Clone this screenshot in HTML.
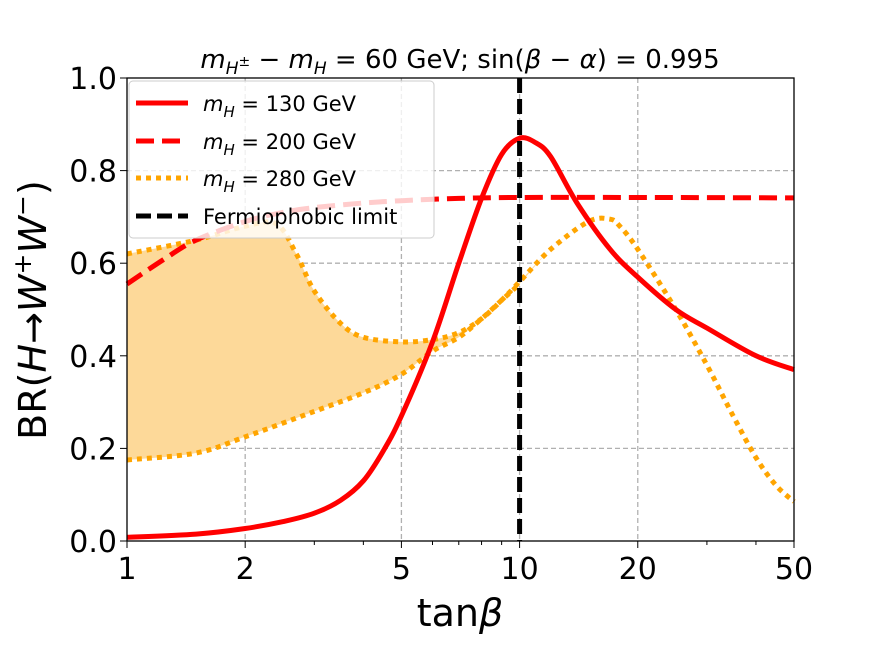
<!DOCTYPE html>
<html><head><meta charset="utf-8"><style>
body{margin:0;background:#fff;font-family:"DejaVu Sans","Liberation Sans",sans-serif}
svg text{font-family:"DejaVu Sans","Liberation Sans",sans-serif}
</style></head><body>
<svg id="c" width="882" height="645" xmlns="http://www.w3.org/2000/svg"></svg>
<script>
const xs130=[1,1.5,2,2.5,3,3.5,4,4.5,5,6,7,8,9,10,11,12,14,17,20,25,30,40,50];
const ys130=[0.008,0.015,0.027,0.042,0.06,0.088,0.13,0.195,0.27,0.43,0.6,0.74,0.835,0.87,0.86,0.83,0.73,0.63,0.57,0.5,0.46,0.40,0.37];
const xs200=[1,1.25,1.5,2,2.5,3,4,5,7,10,20,50];
const ys200=[0.555,0.61,0.65,0.69,0.71,0.72,0.73,0.735,0.74,0.742,0.742,0.741];
const xsUp=[1,1.5,2,2.4,2.7,3,3.5,4,5,6,7,8,9,10,12,15,17,18,20,25,30,35,40,45,50];
const ysUp=[0.62,0.65,0.68,0.685,0.62,0.54,0.47,0.44,0.43,0.435,0.45,0.48,0.52,0.56,0.63,0.69,0.695,0.68,0.63,0.5,0.38,0.27,0.18,0.12,0.085];
const xsLo=[1,1.5,2,3,4,5,6,7,8,9,10];
const ysLo=[0.175,0.19,0.225,0.28,0.32,0.36,0.41,0.44,0.48,0.52,0.555];
const xTicks=[1,2,5,10,20,50];
const yTicks=[0,0.2,0.4,0.6,0.8,1.0];
const X0=127,X1=794,Y0=541,Y1=78;
const sx=v=>X0+Math.log10(v)/Math.log10(50)*(X1-X0);
const sy=v=>Y0-v*(Y0-Y1);
const svg=document.getElementById('c');
const NS='http://www.w3.org/2000/svg';
function mk(t,a,txt){const e=document.createElementNS(NS,t);for(const k in a)e.setAttribute(k,a[k]);if(txt!==undefined)e.textContent=txt;svg.appendChild(e);return e;}
function smooth(P){let d='M'+P[0][0].toFixed(1)+','+P[0][1].toFixed(1);
for(let i=0;i<P.length-1;i++){const p0=P[Math.max(i-1,0)],p1=P[i],p2=P[i+1],p3=P[Math.min(i+2,P.length-1)];
const c1=[p1[0]+(p2[0]-p0[0])/6,p1[1]+(p2[1]-p0[1])/6],c2=[p2[0]-(p3[0]-p1[0])/6,p2[1]-(p3[1]-p1[1])/6];
d+=' C'+c1.map(v=>v.toFixed(1))+' '+c2.map(v=>v.toFixed(1))+' '+p2.map(v=>v.toFixed(1));}return d;}
const P=(xa,ya)=>xa.map((x,i)=>[sx(x),sy(ya[i])]);
xTicks.slice(1,-1).forEach(t=>{const e=mk('line',{x1:sx(t),x2:sx(t),y1:Y1,y2:Y0,stroke:'#b0b0b0','stroke-width':1.3,'stroke-dasharray':'5,3'});

});
yTicks.slice(1,-1).forEach(t=>{const e=mk('line',{x1:X0,x2:X1,y1:sy(t),y2:sy(t),stroke:'#b0b0b0','stroke-width':1.3,'stroke-dasharray':'5,3'});

});
const upP=P(xsUp,ysUp);
const loX=xsLo.concat(xsUp.filter(x=>x>10)), loY=ysLo.concat(ysUp.filter((y,i)=>xsUp[i]>10));
const loP=P(loX,loY);
const upD=smooth(upP), loRev=smooth(loP.slice().reverse());
let f=mk('path',{d:upD+' L'+loRev.slice(1)+' Z',fill:'#fdd999',stroke:'none'});


let l=mk('path',{d:smooth(P(xsLo,ysLo)),fill:'none',stroke:'#ffa500','stroke-width':5,'stroke-dasharray':'5,5'});


l=mk('path',{d:upD,fill:'none',stroke:'#ffa500','stroke-width':5,'stroke-dasharray':'5,5'});


l=mk('path',{d:smooth(P(xs200,ys200)),fill:'none',stroke:'#ff0000','stroke-width':5,'stroke-dasharray':'18,8'});


l=mk('path',{d:smooth(P(xs130,ys130)),fill:'none',stroke:'#ff0000','stroke-width':5,'stroke-linejoin':'round'});


l=mk('line',{x1:sx(10),x2:sx(10),y1:Y1,y2:Y0,stroke:'#000','stroke-width':5,'stroke-dasharray':'15,6'});


l=mk('rect',{x:X0,y:Y1,width:X1-X0,height:Y0-Y1,fill:'none',stroke:'#000','stroke-width':1.3});


for(let d=1;d<=5;d++){for(let m=1;m<10;m++){const v=m*Math.pow(10,d-1);if(v>50)break;const maj=xTicks.includes(v);
const t=mk('line',{x1:sx(v),x2:sx(v),y1:Y0,y2:Y0+(maj?7:4),stroke:'#000','stroke-width':1});

}}
xTicks.forEach(v=>{const t=mk('text',{x:sx(v),y:Y0+38,'font-size':30,'text-anchor':'middle'},String(v));

});
yTicks.forEach(v=>{const k=mk('line',{x1:X0-7,x2:X0,y1:sy(v),y2:sy(v),stroke:'#000','stroke-width':1});


const t=mk('text',{x:X0-10,y:sy(v)+11,'font-size':30,'text-anchor':'end'},v.toFixed(1));

});
</script>
<svg width="882" height="645" style="position:absolute;left:0;top:0" xmlns="http://www.w3.org/2000/svg">
<g>
<rect x="129" y="81" width="305" height="157" rx="4" fill="#fff" fill-opacity="0.8" stroke="#ccc"/>
<line x1="136" y1="103" x2="188" y2="103" stroke="#f00" stroke-width="5"/>
<line x1="136" y1="141" x2="188" y2="141" stroke="#f00" stroke-width="5" stroke-dasharray="18,8"/>
<line x1="136" y1="178" x2="188" y2="178" stroke="#ffa500" stroke-width="5" stroke-dasharray="5,5"/>
<line x1="136" y1="216" x2="188" y2="216" stroke="#000" stroke-width="5" stroke-dasharray="15,6"/>
<text x="203" y="111" font-size="21"><tspan font-style="italic">m</tspan><tspan font-size="15" font-style="italic" dy="6">H</tspan><tspan dy="-6"> = 130 GeV</tspan></text>
<text x="203" y="149" font-size="21"><tspan font-style="italic">m</tspan><tspan font-size="15" font-style="italic" dy="6">H</tspan><tspan dy="-6"> = 200 GeV</tspan></text>
<text x="203" y="186" font-size="21"><tspan font-style="italic">m</tspan><tspan font-size="15" font-style="italic" dy="6">H</tspan><tspan dy="-6"> = 280 GeV</tspan></text>
<text x="203" y="224" font-size="21">Fermiophobic limit</text>
</g>
<text x="460" y="68" font-size="26" text-anchor="middle"><tspan font-style="italic">m</tspan><tspan font-size="17" font-style="italic" dy="6">H</tspan><tspan font-size="14" dy="-8">±</tspan><tspan dy="2"> − </tspan><tspan font-style="italic">m</tspan><tspan font-size="17" font-style="italic" dy="6">H</tspan><tspan dy="-6"> = 60 GeV; sin(</tspan><tspan font-style="italic">β</tspan> − <tspan font-style="italic">α</tspan>) = 0.995</text>
<text x="460" y="626" font-size="38" text-anchor="middle">tan<tspan font-style="italic">β</tspan></text>
<text transform="translate(46,310) rotate(-90)" font-size="38" text-anchor="middle">BR(<tspan font-style="italic">H</tspan>→<tspan font-style="italic">W</tspan><tspan font-size="25" dy="-15">+</tspan><tspan font-style="italic" dy="15">W</tspan><tspan font-size="25" dy="-15">−</tspan><tspan dy="15">)</tspan></text>
</svg>
</body></html>
